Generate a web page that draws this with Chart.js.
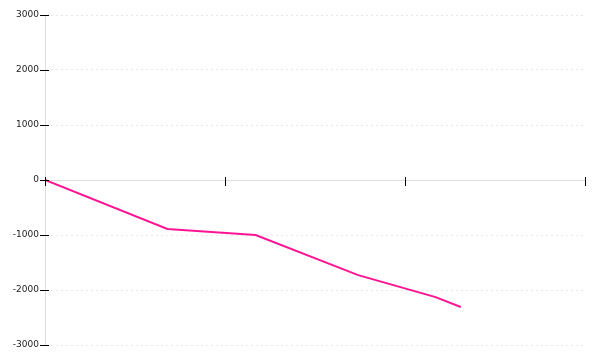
<!DOCTYPE html>
<html>
<head>
<meta charset="utf-8">
<script src="https://cdn.jsdelivr.net/npm/chart.js@4/dist/chart.umd.min.js"></script>
<style>
  body { margin: 0; background: #fff; }
  #wrap { width: 600px; height: 360px; }
</style>
</head>
<body>
<div id="wrap"><canvas id="chart"></canvas></div>
<script>
const xValues = [0, 0.68, 1.17, 1.74, 2.17, 2.31];
const yValues = [0, -890, -1000, -1730, -2130, -2310];
const xTicks = [0, 1, 2, 3];
const yTicks = [-3000, -2000, -1000, 0, 1000, 2000, 3000];

const points = xValues.map((x, i) => ({ x: x, y: yValues[i] }));

// small black tick marks crossing both axis lines
const tickMarks = {
    id: 'tickMarks',
    afterDraw(chart) {
        const ctx = chart.ctx;
        const xs = chart.scales.x;
        const ys = chart.scales.y;
        const zeroY = ys.getPixelForValue(0);
        const left = chart.chartArea.left;
        ctx.save();
        ctx.strokeStyle = '#000';
        ctx.lineWidth = 1;
        ctx.beginPath();
        xTicks.forEach(v => {
            const px = Math.round(xs.getPixelForValue(v)) + 0.5;
            ctx.moveTo(px, zeroY - 3);
            ctx.lineTo(px, zeroY + 6);
        });
        yTicks.forEach(v => {
            const py = Math.round(ys.getPixelForValue(v)) + 0.5;
            ctx.moveTo(left - 5, py);
            ctx.lineTo(left + 4, py);
        });
        ctx.stroke();
        ctx.restore();
    }
};

new Chart(document.getElementById('chart').getContext('2d'), {
    type: 'line',
    data: {
        datasets: [{
            data: points,
            borderColor: '#ff1493',
            borderWidth: 2,
            pointRadius: 0,
            tension: 0,
            fill: false
        }]
    },
    options: {
        responsive: true,
        maintainAspectRatio: false,
        animation: false,
        layout: { padding: { top: 15, right: 15, bottom: 15, left: 0 } },
        plugins: {
            legend: { display: false },
            tooltip: { enabled: false }
        },
        scales: {
            x: {
                type: 'linear',
                position: { y: 0 },
                min: 0,
                max: 3,
                ticks: { display: false, stepSize: 1 },
                grid: { display: false },
                border: { display: true, color: '#dddddd', width: 1 }
            },
            y: {
                type: 'linear',
                min: -3000,
                max: 3000,
                afterFit(scale) { scale.width = 45; },
                ticks: {
                    stepSize: 1000,
                    padding: 6,
                    color: '#222',
                    font: { family: 'DejaVu Sans', size: 9 },
                    callback: v => String(v)
                },
                grid: {
                    drawTicks: false,
                    color: '#e6e6e6',
                    tickBorderDash: [2, 3]
                },
                border: { display: true, color: '#dddddd', width: 1, dash: [2, 3] }
            }
        }
    },
    plugins: [tickMarks]
});
</script>
</body>
</html>
